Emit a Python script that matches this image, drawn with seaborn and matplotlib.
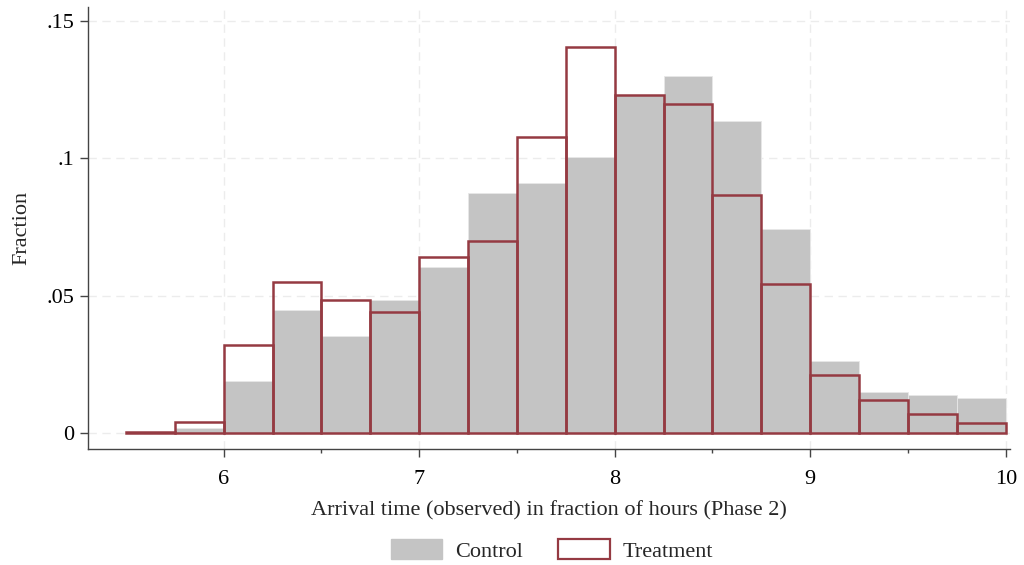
import numpy as np
import pandas as pd
import matplotlib
matplotlib.use("Agg")
import matplotlib.pyplot as plt
import seaborn as sns
from matplotlib.patches import Patch

bin_edges = [5.5 + 0.25 * i for i in range(19)]
bin_centers = [5.625 + 0.25 * i for i in range(18)]
control = [0.0, 0.002, 0.019, 0.0448, 0.0353, 0.0484, 0.0604, 0.0874, 0.091,
           0.1005, 0.123, 0.130, 0.1136, 0.0743, 0.0262, 0.0149, 0.0138, 0.0127]
treatment = [0.0003, 0.004, 0.032, 0.055, 0.0484, 0.044, 0.064, 0.070, 0.1078,
             0.1405, 0.123, 0.1198, 0.0866, 0.0542, 0.0211, 0.012, 0.0069, 0.0036]
x_ticks = [6, 7, 8, 9, 10]
y_ticks = [0, 0.05, 0.1, 0.15]
y_labels = ["0", ".05", ".1", ".15"]

sns.set_theme(style="white")
plt.rcParams['font.family'] = ['Liberation Serif', 'DejaVu Serif']

GRAY = "#c4c4c4"
RED = "#953a42"
FS = 16

fig = plt.figure(figsize=(10.24, 5.65), dpi=100)
ax = fig.add_axes([0.086, 0.205, 0.900, 0.783])

df = pd.DataFrame({"x": bin_centers, "control": control, "treatment": treatment})
sns.histplot(data=df, x="x", weights="control", bins=bin_edges, stat="count",
             color=GRAY, alpha=1, edgecolor="#e8e8e8", linewidth=0.6, ax=ax, zorder=2)
sns.histplot(data=df, x="x", weights="treatment", bins=bin_edges, stat="count",
             fill=False, color=RED, edgecolor=RED, linewidth=1.8, element="bars",
             ax=ax, zorder=3)
for p in ax.patches[18:]:
    p.set_edgecolor(RED)

ax.set_xlim(5.306, 10.02)
ax.set_ylim(-0.0058, 0.155)
ax.set_xticks(x_ticks)
ax.set_xticks([6.5, 7.5, 8.5, 9.5], minor=True)
ax.set_yticks(y_ticks)
ax.set_yticklabels(y_labels)
ax.grid(True, which="major", color="#ececec", linestyle=(0, (6, 4)), linewidth=1.0, zorder=0)
ax.set_axisbelow(True)

for s in ["top", "right"]:
    ax.spines[s].set_visible(False)
for s in ["left", "bottom"]:
    ax.spines[s].set_color("#444444")
    ax.spines[s].set_linewidth(1.0)

ax.tick_params(axis="both", which="major", direction="out", length=6, width=1,
               color="#444444", labelsize=FS, labelcolor="black", pad=4)
ax.tick_params(axis="x", which="major", pad=9)
ax.tick_params(axis="x", which="minor", direction="out", length=3, width=1,
               color="#444444", bottom=True)
ax.tick_params(axis="x", bottom=True)
ax.tick_params(axis="y", left=True)

ax.set_xlabel("Arrival time (observed) in fraction of hours (Phase 2)", fontsize=FS, labelpad=9)
ax.set_ylabel("Fraction", fontsize=FS, labelpad=11)

handles = [Patch(facecolor=GRAY, edgecolor=GRAY, label="Control"),
           Patch(facecolor="white", edgecolor=RED, linewidth=1.6, label="Treatment")]
fig.legend(handles=handles, loc="lower center", bbox_to_anchor=(0.539, -0.03), ncol=2,
           frameon=False, fontsize=FS, handlelength=2.3, handleheight=1.0,
           columnspacing=1.6, handletextpad=0.6)

fig.savefig("out.png", dpi=100)
